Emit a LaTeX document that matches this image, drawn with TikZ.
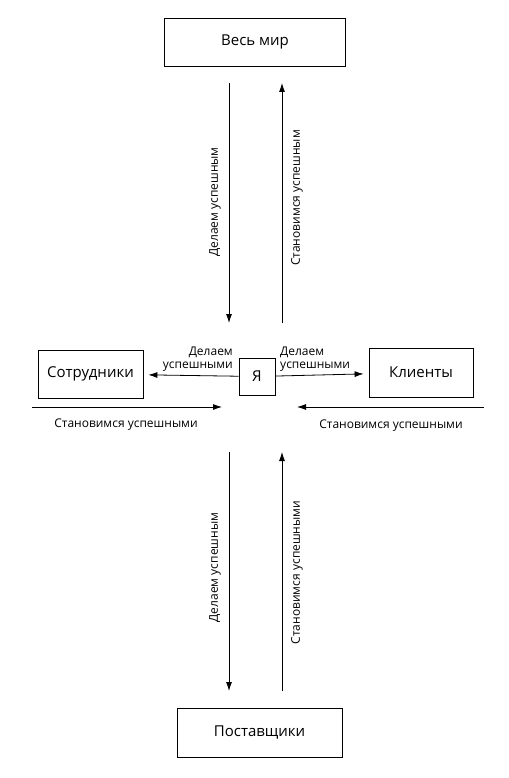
\documentclass[tikz,border=0pt]{standalone}
\usepackage{fontspec}
\setmainfont{Open Sans}
\usepackage{tikz}
\usetikzlibrary{arrows.meta,positioning}

\begin{document}
\begin{tikzpicture}[
  x=1pt,
  y=-1pt,
  every node/.style={
    inner sep=0pt,
    font=\fontsize{15}{17}\selectfont
  },
  party/.style={
    rectangle,
    draw=black,
    line width=0.8pt,
    align=center
  },
  flow/.style={
    -{Latex[length=9pt,width=6pt]},
    draw=black,
    line width=0.8pt
  },
  flowlabel/.style={
    font=\fontsize{12}{13}\selectfont
  }
]

\useasboundingbox (0,0) rectangle (508,778);

% Parties
\node[party, minimum width=181pt, minimum height=48pt] (world)     at (255,42)    {Весь мир};
\node[party, minimum width=36pt,  minimum height=37pt] (me)        at (257,376.5) {Я};
\node[party, minimum width=105pt, minimum height=48pt] (staff)     at (90.5,374)  {Сотрудники};
\node[party, minimum width=104pt, minimum height=49pt] (clients)   at (421,372.5) {Клиенты};
\node[party, minimum width=165pt, minimum height=49pt] (suppliers) at (259.5,732.5) {Поставщики};

% Free ends of the flows
\coordinate (topdownA)   at (229,83);
\coordinate (topdownB)   at (229,323);
\coordinate (topupA)     at (282,323);
\coordinate (topupB)     at (282,83);
\coordinate (botdownA)   at (229,452);
\coordinate (botdownB)   at (229,691);
\coordinate (botupA)     at (282,691);
\coordinate (botupB)     at (282,452);
\coordinate (leftinA)    at (32,407);
\coordinate (leftinB)    at (222,407);
\coordinate (rightinA)   at (484,407);
\coordinate (rightinB)   at (297,407);

% Flows between me and the others
\draw[flow, shorten >=5pt] (me) -- (staff);
\draw[flow, shorten >=5pt] (me) -- (clients);
\draw[flow] (topdownA) -- (topdownB);
\draw[flow] (topupA) -- (topupB);
\draw[flow] (botdownA) -- (botdownB);
\draw[flow] (botupA) -- (botupB);
\draw[flow] (leftinA) -- (leftinB);
\draw[flow] (rightinA) -- (rightinB);

% Labels
\node[flowlabel, rotate=90] (topdownlbl) at (215,202)   {Делаем успешным};
\node[flowlabel, rotate=90] (topuplbl)   at (297,198)   {Становимся успешным};
\node[flowlabel, rotate=90] (botdownlbl) at (215,567.5) {Делаем успешным};
\node[flowlabel, rotate=90] (botuplbl)   at (297,572.5) {Становимся успешными};
\node[flowlabel, align=right, anchor=south east] (stafflbl)   at (233,372) {Делаем\\успешными};
\node[flowlabel, align=left,  anchor=south west] (clientslbl) at (280,372) {Делаем\\успешными};
\node[flowlabel] (leftinlbl)  at (126,425) {Становимся успешными};
\node[flowlabel] (rightinlbl) at (391,426) {Становимся успешными};

\end{tikzpicture}
\end{document}
